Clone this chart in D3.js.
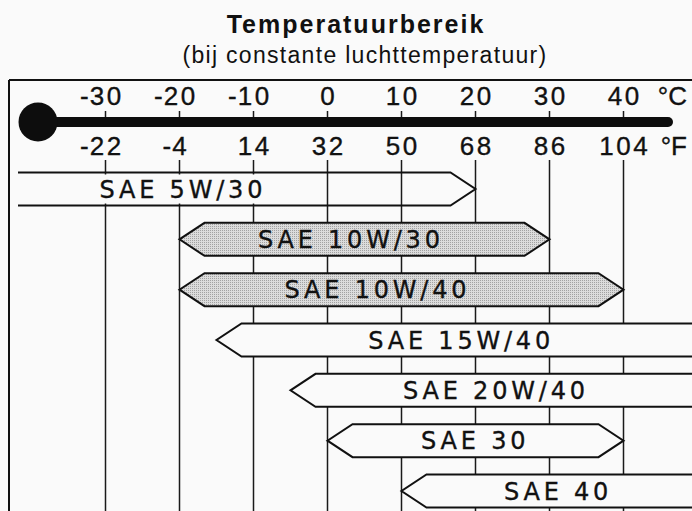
<!DOCTYPE html>
<html>
<head>
<meta charset="utf-8">
<script src="https://cdn.jsdelivr.net/npm/d3@7"></script>
<style>
  html, body { margin: 0; padding: 0; background: #fafafa; }
  svg { display: block; }
  text { font-family: "Liberation Sans", Arial, Helvetica, sans-serif; fill: #111; }
  .lab { font-family: "DejaVu Sans", "Liberation Sans", sans-serif; stroke: #111; stroke-width: 0.35px; }
</style>
</head>
<body>
<svg id="chart" width="692" height="511"></svg>
<script>
// ---- data ----
const title = "Temperatuurbereik";
const subtitle = "(bij constante luchttemperatuur)";
const celsiusTicks = [-30, -20, -10, 0, 10, 20, 30, 40];
const celsiusLabels = ["-30", "-20", "-10", "0", "10", "20", "30", "40"];
const fahrenheitLabels = ["-22", "-4", "14", "32", "50", "68", "86", "104"];
const oils = ["SAE 5W/30", "SAE 10W/30", "SAE 10W/40", "SAE 15W/40", "SAE 20W/40", "SAE 30", "SAE 40"];
const minTemp = [null, -20, -20, -15, -5, 0, 10];   // null = open-ended (colder)
const maxTemp = [20, 30, 40, null, null, 40, null];  // null = open-ended (warmer)

// ---- layout / style ----
const W = 692, H = 511;
const bg = "#fafafa";
const frameLeft = 9, frameTop = 80;
const bandFill = {"SAE 5W/30": "none", "SAE 10W/30": "url(#stipple)", "SAE 10W/40": "url(#stipple)"};
const labelAt = {"SAE 5W/30": -19.8, "SAE 10W/30": 2.9, "SAE 10W/40": 6.5, "SAE 15W/40": 17.8,
                 "SAE 20W/40": 22.5, "SAE 30": 19.7, "SAE 40": 30.9};
const chamfer = 25;

const svg = d3.select("#chart");
svg.append("rect").attr("width", W).attr("height", H).attr("fill", bg);

const defs = svg.append("defs");
const pat = defs.append("pattern").attr("id", "stipple").attr("width", 2).attr("height", 2)
  .attr("patternUnits", "userSpaceOnUse");
pat.append("rect").attr("width", 2).attr("height", 2).attr("fill", "#dcdcdc");
pat.append("rect").attr("width", 1).attr("height", 1).attr("fill", "#a2a2a2");

const x = d3.scaleLinear().domain([-30, 40]).range([105.5, 623.5]);
const y = d3.scaleBand().domain(oils).range([172.5, 507.5]).paddingInner(0.344).paddingOuter(0);

// ---- titles ----
svg.append("text").attr("x", 356).attr("y", 33).attr("text-anchor", "middle")
  .style("font-size", "25px").style("font-weight", "bold").style("letter-spacing", "2px")
  .text(title);
svg.append("text").attr("x", 365).attr("y", 63).attr("text-anchor", "middle")
  .style("font-size", "23px").style("letter-spacing", "1.3px")
  .text(subtitle);

// ---- frame ----
svg.append("line").attr("x1", frameLeft).attr("x2", W).attr("y1", frameTop).attr("y2", frameTop)
  .attr("stroke", "#111").attr("stroke-width", 2);
svg.append("line").attr("x1", frameLeft).attr("x2", frameLeft).attr("y1", frameTop).attr("y2", H)
  .attr("stroke", "#111").attr("stroke-width", 2);

// ---- vertical grid lines ----
svg.append("g").selectAll("line").data(celsiusTicks).join("line")
  .attr("x1", d => x(d)).attr("x2", d => x(d)).attr("y1", 160).attr("y2", H)
  .attr("stroke", "#1a1a1a").attr("stroke-width", 1.5);

// ---- thermometer ----
svg.append("g").selectAll("line").data(celsiusTicks).join("line")
  .attr("x1", d => x(d)).attr("x2", d => x(d)).attr("y1", 111).attr("y2", 118)
  .attr("stroke", "#1a1a1a").attr("stroke-width", 1.5);
svg.append("rect").attr("x", 38).attr("y", 117).attr("width", 673 - 38).attr("height", 10)
  .attr("rx", 5).attr("fill", "#0d0d0d");
svg.append("circle").attr("cx", 38).attr("cy", 122).attr("r", 19.5).attr("fill", "#0d0d0d");

// ---- tick labels (digits centred on the tick, minus sign hangs left) ----
function tickLabels(labels, baseY, unit) {
  const ls = 2.5;
  const g = svg.append("g").attr("class", "lab").style("font-size", "26px").style("letter-spacing", ls + "px");
  labels.forEach((s, i) => {
    const cx = x(celsiusTicks[i]);
    const neg = s.startsWith("-");
    const digits = neg ? s.slice(1) : s;
    const t = g.append("text").attr("x", cx + ls / 2).attr("y", baseY).attr("text-anchor", "middle").text(digits);
    const w = t.node().getComputedTextLength() - ls;
    if (neg) {
      g.append("text").attr("x", cx - w / 2 - 1).attr("y", baseY).attr("text-anchor", "end")
        .style("letter-spacing", "0px").text("-");
    }
  });
  g.append("text").attr("x", W - 5).attr("y", baseY).attr("text-anchor", "end")
    .style("letter-spacing", "0px").text(unit);
}
tickLabels(celsiusLabels, 105, "°C");
tickLabels(fahrenheitLabels, 155, "°F");

// ---- oil bands ----
const bh = y.bandwidth();
const bands = svg.append("g");
oils.forEach((name, i) => {
  const top = y(name), bot = top + bh, mid = top + bh / 2;
  const lo = minTemp[i], hi = maxTemp[i];
  const xl = lo === null ? frameLeft + 9 : x(lo);
  const xr = hi === null ? W + 5 : x(hi);
  let pts, closed;
  if (lo !== null && hi !== null) {
    pts = [[xl + chamfer, top], [xr - chamfer, top], [xr, mid], [xr - chamfer, bot], [xl + chamfer, bot], [xl, mid]];
    closed = true;
  } else if (lo === null) {
    pts = [[xl, top], [xr - chamfer, top], [xr, mid], [xr - chamfer, bot], [xl, bot]];
    closed = false;
  } else {
    pts = [[xr, top], [xl + chamfer, top], [xl, mid], [xl + chamfer, bot], [xr, bot]];
    closed = false;
  }
  const line = d3.line();
  bands.append("path").attr("d", line(pts) + "Z")
    .attr("fill", bandFill[name] !== undefined ? bandFill[name] : bg).attr("stroke", "none");
  bands.append("path").attr("d", line(pts) + (closed ? "Z" : ""))
    .attr("fill", "none").attr("stroke", "#111").attr("stroke-width", 2).attr("stroke-linejoin", "miter");

  const ls = 3.8;
  const lx = x(labelAt[name]);
  const lbl = bands.append("text").attr("class", "lab").attr("x", lx + ls / 2).attr("y", mid + 8.7)
    .attr("text-anchor", "middle").style("font-size", "24px").style("letter-spacing", ls + "px")
    .text(name);
  if (bandFill[name] === "none") {
    const w = lbl.node().getComputedTextLength();
    bands.insert("rect", () => lbl.node())
      .attr("x", lx - w / 2 - 12).attr("y", top + 2).attr("width", w + 24).attr("height", bh - 4)
      .attr("fill", bg);
  }
});
</script>
</body>
</html>
